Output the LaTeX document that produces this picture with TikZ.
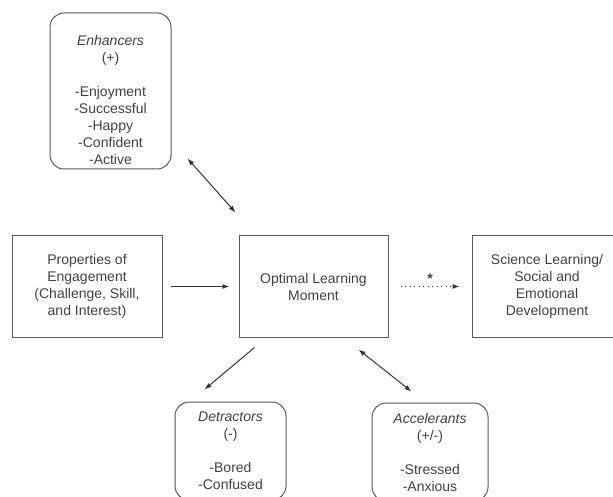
\documentclass[tikz,border=0pt]{standalone}
\usepackage{fontspec}
\setmainfont{Liberation Sans}
\usetikzlibrary{arrows.meta}

\begin{document}
\begin{tikzpicture}[x=1pt, y=-1pt,
        every node/.style={text=black!75, font=\fontsize{14}{17}\selectfont, align=center},
        plainbox/.style={draw=black!65, line width=1pt, minimum width=150pt, minimum height=101pt, inner sep=0pt},
        softbox/.style={draw=black!65, line width=1pt, rounded corners=14pt, inner sep=0pt},
        link/.style={draw=black!80, line width=1pt, -{Latex[length=7pt, width=5pt]}},
        twoway/.style={draw=black!80, line width=1pt, {Latex[length=7pt, width=5pt]}-{Latex[length=7pt, width=5pt]}}]
        \useasboundingbox (0,0) rectangle (613,497);
        \node[softbox, minimum width=121pt, minimum height=156pt] (enh) at (110.5,91)
            {\rule{0pt}{28pt}\textit{Enhancers}\\(+)\\[17pt]-Enjoyment\\-Successful\\-Happy\\-Confident\\-Active};
        \node[plainbox] (prop) at (87,286.5) {Properties of\\Engagement\\(Challenge, Skill,\\and Interest)};
        \node[plainbox, minimum width=149pt] (olm) at (313.5,286.5) {Optimal Learning\\Moment};
        \node[plainbox] (sci) at (547,286.5) {Science Learning/\\Social and\\Emotional\\Development};
        \node[softbox, minimum width=111pt, minimum height=98pt] (det) at (230.5,451)
            {\textit{Detractors}\\(-)\\[17pt]-Bored\\-Confused};
        \node[softbox, minimum width=116pt, minimum height=98pt] (acc) at (430,452)
            {\textit{Accelerants}\\(+/-)\\[17pt]-Stressed\\-Anxious};
        \draw[twoway] ([shift={(16,-11)}]enh.south east) -- ([shift={(-3,-23)}]olm.north west);
        \draw[link, shorten <=8pt, shorten >=9pt] (prop) -- (olm);
        \draw[link, dash pattern=on 1.2pt off 3.3pt, shorten <=12pt, shorten >=12pt] (olm) -- node[above=3pt, inner sep=0pt, name=star] {\textbf{*}} (sci);
        \draw[link] ([shift={(16,10)}]olm.south west) -- ([shift={(30,-12)}]det.north west);
        \draw[twoway] ([shift={(-30,12)}]olm.south east) -- ([shift={(40,-11)}]acc.north west);
    \end{tikzpicture}
\end{document}
